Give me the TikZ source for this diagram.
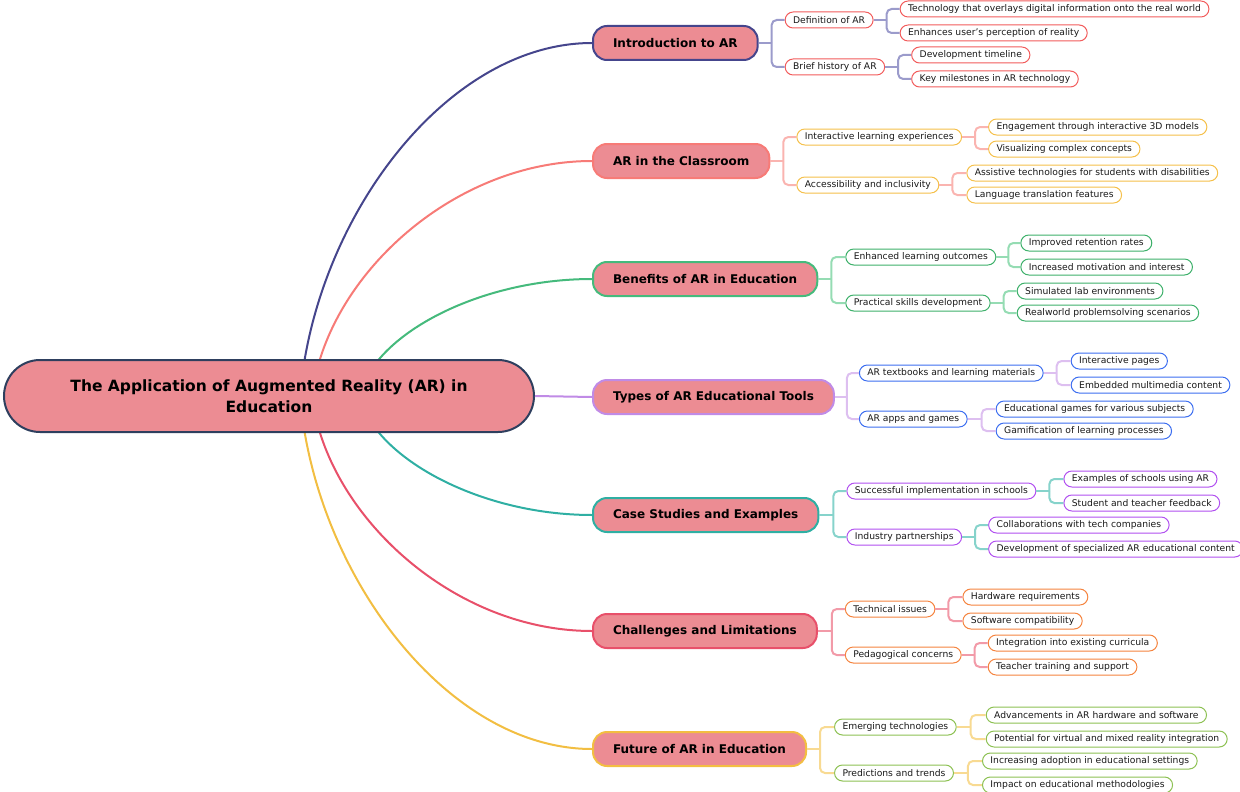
\documentclass[tikz,border=0pt]{standalone}
\usepackage{fontspec}
\setmainfont{DejaVu Sans}
\usepackage{xcolor}
\definecolor{root-fill}{HTML}{EC8C93}
\definecolor{root-line}{HTML}{2E3F5E}
\definecolor{intro-main}{HTML}{45458C}
\definecolor{intro-link}{HTML}{9B9BCB}
\definecolor{intro-leaf}{HTML}{F25B5B}
\definecolor{class-main}{HTML}{F77B77}
\definecolor{class-link}{HTML}{FAB4B0}
\definecolor{class-leaf}{HTML}{F5C04A}
\definecolor{bene-main}{HTML}{45BA7C}
\definecolor{bene-link}{HTML}{95DCB3}
\definecolor{bene-leaf}{HTML}{3DB06A}
\definecolor{tools-main}{HTML}{C08BE6}
\definecolor{tools-link}{HTML}{DDBFF0}
\definecolor{tools-leaf}{HTML}{3C6EF0}
\definecolor{case-main}{HTML}{2FAFA3}
\definecolor{case-link}{HTML}{86D3CB}
\definecolor{case-leaf}{HTML}{B150F0}
\definecolor{chal-main}{HTML}{E8506A}
\definecolor{chal-link}{HTML}{F29AA8}
\definecolor{chal-leaf}{HTML}{F5843F}
\definecolor{futr-main}{HTML}{F2BE42}
\definecolor{futr-link}{HTML}{F8DA92}
\definecolor{futr-leaf}{HTML}{8DC153}
\usepackage{tikz}

\tikzset{
    rootbox/.style={draw=root-line, line width=2pt, fill=root-fill, rounded corners=36pt,
        minimum width=530pt, minimum height=72pt, align=center,
        font=\bfseries\fontsize{15.5}{21}\selectfont},
    topic/.style={draw=#1, line width=2pt, fill=root-fill, rounded corners=14pt,
        minimum height=34pt, inner xsep=20pt, inner ysep=0pt, anchor=west,
        font=\bfseries\fontsize{12}{15}\selectfont},
    sub/.style={draw=#1, line width=1pt, fill=white, rounded corners=8pt,
        minimum height=16pt, inner xsep=8pt, inner ysep=0pt, anchor=west,
        text=black!90, font=\fontsize{9.2}{11}\selectfont},
    curve/.style={draw=#1, line width=2pt},
    link/.style={draw=#1, line width=2pt, rounded corners=5pt},
}

\begin{document}
\begin{tikzpicture}[x=1pt, y=-1pt]

    \useasboundingbox (0, 0) rectangle (1240, 792);

    % Topics
    \node[topic=intro-main] (intro) at (592, 43) {Introduction to AR};
    \node[topic=class-main] (class) at (592, 161) {AR in the Classroom};
    \node[topic=bene-main] (bene) at (592, 279) {Benefits of AR in Education};
    \node[topic=tools-main] (tools) at (592, 397) {Types of AR Educational Tools};
    \node[topic=case-main] (case) at (592, 515) {Case Studies and Examples};
    \node[topic=chal-main] (chal) at (592, 631) {Challenges and Limitations};
    \node[topic=futr-main] (futr) at (592, 749) {Future of AR in Education};

    % Curves out of the root
    \coordinate (hub) at (269, 396);
    \draw[curve=intro-main] ([xshift=31pt]hub) .. controls +(14.6, -177) and +(-146, 0) .. (intro.west);
    \draw[curve=class-main] ([xshift=43pt]hub) .. controls +(14, -118) and +(-140, 0) .. (class.west);
    \draw[curve=bene-main] ([xshift=91pt]hub) .. controls +(11.6, -59) and +(-116, 0) .. (bene.west);
    \draw[curve=case-main] ([xshift=91pt]hub) .. controls +(11.6, 58.5) and +(-116, 0) .. (case.west);
    \draw[curve=chal-main] ([xshift=43pt]hub) .. controls +(14, 117.5) and +(-140, 0) .. (chal.west);
    \draw[curve=futr-main] ([xshift=31pt]hub) .. controls +(14.6, 176.5) and +(-146, 0) .. (futr.west);

    % Root
    \node[rootbox] (root) at (hub) {The Application of Augmented Reality (AR) in\\Education};
    \draw[curve=tools-main] (root.east) -- (tools.west);

    % Introduction to AR
    \node[sub=intro-leaf] (def) at ([shift={(26, -23)}]intro.east) {Definition of AR};
    \node[sub=intro-leaf] (hist) at ([shift={(26, 24)}]intro.east) {Brief history of AR};
    \node[sub=intro-leaf] (overlay) at ([shift={(26, -11)}]def.east) {Technology that overlays digital information onto the real world};
    \node[sub=intro-leaf] (percep) at ([shift={(26, 13)}]def.east) {Enhances user's perception of reality};
    \node[sub=intro-leaf] (timeline) at ([shift={(26, -12)}]hist.east) {Development timeline};
    \node[sub=intro-leaf] (milestone) at ([shift={(26, 12)}]hist.east) {Key milestones in AR technology};
    \draw[link=intro-link] (intro.east) -- ++(13, 0) coordinate (f-intro);
    \draw[link=intro-link] (f-intro) |- (def.west);
    \draw[link=intro-link] (f-intro) |- (hist.west);
    \draw[link=intro-link] (def.east) -- ++(13, 0) coordinate (f-def);
    \draw[link=intro-link] (f-def) |- (overlay.west);
    \draw[link=intro-link] (f-def) |- (percep.west);
    \draw[link=intro-link] (hist.east) -- ++(13, 0) coordinate (f-hist);
    \draw[link=intro-link] (f-hist) |- (timeline.west);
    \draw[link=intro-link] (f-hist) |- (milestone.west);

    % AR in the Classroom
    \node[sub=class-leaf] (interact) at ([shift={(26, -24)}]class.east) {Interactive learning experiences};
    \node[sub=class-leaf] (access) at ([shift={(26, 24)}]class.east) {Accessibility and inclusivity};
    \node[sub=class-leaf] (models) at ([shift={(26, -10)}]interact.east) {Engagement through interactive 3D models};
    \node[sub=class-leaf] (visual) at ([shift={(26, 12)}]interact.east) {Visualizing complex concepts};
    \node[sub=class-leaf] (assist) at ([shift={(27, -12)}]access.east) {Assistive technologies for students with disabilities};
    \node[sub=class-leaf] (transl) at ([shift={(27, 10)}]access.east) {Language translation features};
    \draw[link=class-link] (class.east) -- ++(13, 0) coordinate (f-class);
    \draw[link=class-link] (f-class) |- (interact.west);
    \draw[link=class-link] (f-class) |- (access.west);
    \draw[link=class-link] (interact.east) -- ++(13, 0) coordinate (f-interact);
    \draw[link=class-link] (f-interact) |- (models.west);
    \draw[link=class-link] (f-interact) |- (visual.west);
    \draw[link=class-link] (access.east) -- ++(13, 0) coordinate (f-access);
    \draw[link=class-link] (f-access) |- (assist.west);
    \draw[link=class-link] (f-access) |- (transl.west);

    % Benefits of AR in Education
    \node[sub=bene-leaf] (outcome) at ([shift={(27, -22)}]bene.east) {Enhanced learning outcomes};
    \node[sub=bene-leaf] (skills) at ([shift={(27, 24)}]bene.east) {Practical skills development};
    \node[sub=bene-leaf] (retain) at ([shift={(24, -14)}]outcome.east) {Improved retention rates};
    \node[sub=bene-leaf] (motiv) at ([shift={(24, 10)}]outcome.east) {Increased motivation and interest};
    \node[sub=bene-leaf] (lab) at ([shift={(26, -12)}]skills.east) {Simulated lab environments};
    \node[sub=bene-leaf] (realw) at ([shift={(26, 10)}]skills.east) {Realworld problemsolving scenarios};
    \draw[link=bene-link] (bene.east) -- ++(13, 0) coordinate (f-bene);
    \draw[link=bene-link] (f-bene) |- (outcome.west);
    \draw[link=bene-link] (f-bene) |- (skills.west);
    \draw[link=bene-link] (outcome.east) -- ++(12, 0) coordinate (f-outcome);
    \draw[link=bene-link] (f-outcome) |- (retain.west);
    \draw[link=bene-link] (f-outcome) |- (motiv.west);
    \draw[link=bene-link] (skills.east) -- ++(13, 0) coordinate (f-skills);
    \draw[link=bene-link] (f-skills) |- (lab.west);
    \draw[link=bene-link] (f-skills) |- (realw.west);

    % Types of AR Educational Tools
    \node[sub=tools-leaf] (books) at ([shift={(24, -24)}]tools.east) {AR textbooks and learning materials};
    \node[sub=tools-leaf] (apps) at ([shift={(24, 22)}]tools.east) {AR apps and games};
    \node[sub=tools-leaf] (pages) at ([shift={(27, -12)}]books.east) {Interactive pages};
    \node[sub=tools-leaf] (media) at ([shift={(27, 12)}]books.east) {Embedded multimedia content};
    \node[sub=tools-leaf] (games) at ([shift={(28, -10)}]apps.east) {Educational games for various subjects};
    \node[sub=tools-leaf] (gamify) at ([shift={(28, 12)}]apps.east) {Gamification of learning processes};
    \draw[link=tools-link] (tools.east) -- ++(12, 0) coordinate (f-tools);
    \draw[link=tools-link] (f-tools) |- (books.west);
    \draw[link=tools-link] (f-tools) |- (apps.west);
    \draw[link=tools-link] (books.east) -- ++(13, 0) coordinate (f-books);
    \draw[link=tools-link] (f-books) |- (pages.west);
    \draw[link=tools-link] (f-books) |- (media.west);
    \draw[link=tools-link] (apps.east) -- ++(14, 0) coordinate (f-apps);
    \draw[link=tools-link] (f-apps) |- (games.west);
    \draw[link=tools-link] (f-apps) |- (gamify.west);

    % Case Studies and Examples
    \node[sub=case-leaf] (schools) at ([shift={(27, -24)}]case.east) {Successful implementation in schools};
    \node[sub=case-leaf] (partner) at ([shift={(27, 22)}]case.east) {Industry partnerships};
    \node[sub=case-leaf] (usingar) at ([shift={(27, -12)}]schools.east) {Examples of schools using AR};
    \node[sub=case-leaf] (feedback) at ([shift={(27, 12)}]schools.east) {Student and teacher feedback};
    \node[sub=case-leaf] (collab) at ([shift={(26, -12)}]partner.east) {Collaborations with tech companies};
    \node[sub=case-leaf] (content) at ([shift={(26, 12)}]partner.east) {Development of specialized AR educational content};
    \draw[link=case-link] (case.east) -- ++(14, 0) coordinate (f-case);
    \draw[link=case-link] (f-case) |- (schools.west);
    \draw[link=case-link] (f-case) |- (partner.west);
    \draw[link=case-link] (schools.east) -- ++(13, 0) coordinate (f-schools);
    \draw[link=case-link] (f-schools) |- (usingar.west);
    \draw[link=case-link] (f-schools) |- (feedback.west);
    \draw[link=case-link] (partner.east) -- ++(13, 0) coordinate (f-partner);
    \draw[link=case-link] (f-partner) |- (collab.west);
    \draw[link=case-link] (f-partner) |- (content.west);

    % Challenges and Limitations
    \node[sub=chal-leaf] (technic) at ([shift={(27, -22)}]chal.east) {Technical issues};
    \node[sub=chal-leaf] (pedago) at ([shift={(27, 24)}]chal.east) {Pedagogical concerns};
    \node[sub=chal-leaf] (hardware) at ([shift={(27, -12)}]technic.east) {Hardware requirements};
    \node[sub=chal-leaf] (software) at ([shift={(27, 12)}]technic.east) {Software compatibility};
    \node[sub=chal-leaf] (curric) at ([shift={(26, -12)}]pedago.east) {Integration into existing curricula};
    \node[sub=chal-leaf] (training) at ([shift={(26, 12)}]pedago.east) {Teacher training and support};
    \draw[link=chal-link] (chal.east) -- ++(14, 0) coordinate (f-chal);
    \draw[link=chal-link] (f-chal) |- (technic.west);
    \draw[link=chal-link] (f-chal) |- (pedago.west);
    \draw[link=chal-link] (technic.east) -- ++(13, 0) coordinate (f-technic);
    \draw[link=chal-link] (f-technic) |- (hardware.west);
    \draw[link=chal-link] (f-technic) |- (software.west);
    \draw[link=chal-link] (pedago.east) -- ++(13, 0) coordinate (f-pedago);
    \draw[link=chal-link] (f-pedago) |- (curric.west);
    \draw[link=chal-link] (f-pedago) |- (training.west);

    % Future of AR in Education
    \node[sub=futr-leaf] (emerging) at ([shift={(27, -22)}]futr.east) {Emerging technologies};
    \node[sub=futr-leaf] (trends) at ([shift={(27, 24)}]futr.east) {Predictions and trends};
    \node[sub=futr-leaf] (advance) at ([shift={(29, -12)}]emerging.east) {Advancements in AR hardware and software};
    \node[sub=futr-leaf] (mixed) at ([shift={(29, 12)}]emerging.east) {Potential for virtual and mixed reality integration};
    \node[sub=futr-leaf] (adoption) at ([shift={(28, -12)}]trends.east) {Increasing adoption in educational settings};
    \node[sub=futr-leaf] (impact) at ([shift={(28, 12)}]trends.east) {Impact on educational methodologies};
    \draw[link=futr-link] (futr.east) -- ++(13, 0) coordinate (f-futr);
    \draw[link=futr-link] (f-futr) |- (emerging.west);
    \draw[link=futr-link] (f-futr) |- (trends.west);
    \draw[link=futr-link] (emerging.east) -- ++(14, 0) coordinate (f-emerging);
    \draw[link=futr-link] (f-emerging) |- (advance.west);
    \draw[link=futr-link] (f-emerging) |- (mixed.west);
    \draw[link=futr-link] (trends.east) -- ++(14, 0) coordinate (f-trends);
    \draw[link=futr-link] (f-trends) |- (adoption.west);
    \draw[link=futr-link] (f-trends) |- (impact.west);

\end{tikzpicture}
\end{document}
